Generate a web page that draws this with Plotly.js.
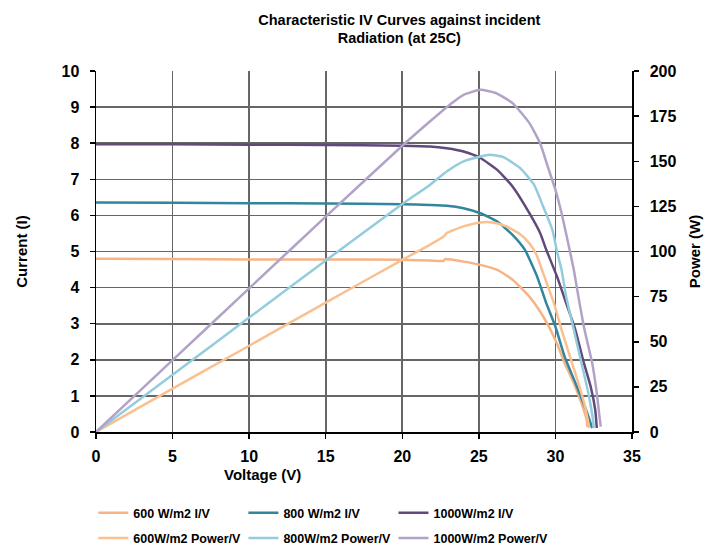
<!DOCTYPE html>
<html>
<head>
<meta charset="utf-8">
<script src="https://cdn.plot.ly/plotly-3.0.1.min.js"></script>
<style>html,body{margin:0;padding:0;background:#fff;}#chart{width:708px;height:547px;}</style>
</head>
<body>
<div id="chart"></div>
<script>
// ---- data ----
var seriesNames = ['600 W/m2 I/V', '800 W/m2 I/V', '1000W/m2 I/V',
                   '600W/m2 Power/V', '800W/m2 Power/V', '1000W/m2 Power/V'];

var v600 = [0, 5, 10, 15, 20, 21.8, 22.7, 22.8, 24, 25.1, 26.2, 27.2, 28.3, 29.2, 30, 30.6, 31.2, 31.7, 32.04, 32.08];
var i600 = [4.80, 4.79, 4.78, 4.78, 4.77, 4.75, 4.74, 4.79, 4.72, 4.63, 4.49, 4.22, 3.75, 3.2, 2.55, 1.91, 1.35, 0.8, 0.34, 0.14];

var v800 = [0, 5, 10, 15, 20, 21.8, 22.9, 24, 25.1, 26.2, 27.2, 28, 28.8, 29.4, 30, 30.6, 31.4, 32, 32.4];
var i800 = [6.36, 6.35, 6.34, 6.33, 6.31, 6.29, 6.27, 6.2, 6.06, 5.83, 5.46, 5.05, 4.31, 3.57, 2.92, 2.09, 1.26, 0.61, 0.11];

var v1000 = [0, 5, 10, 15, 20, 21.8, 22.9, 24, 25.1, 26.2, 27.2, 28.3, 29, 29.4, 30.1, 30.7, 31.3, 31.8, 32.3, 32.6, 32.7];
var i1000 = [7.97, 7.97, 7.96, 7.95, 7.93, 7.91, 7.86, 7.77, 7.59, 7.26, 6.8, 6.06, 5.51, 5.05, 4.31, 3.57, 2.83, 2.0, 1.26, 0.61, 0.11];

var vp600 = [0, 5, 10, 15, 20, 21.8, 22.7, 22.9, 24, 25.1, 25.9, 26.8, 27.7, 28.3, 28.75, 29.2, 29.9, 30.4, 30.95, 31.5, 31.93, 32.21];
var p600 = [0, 24, 47.8, 71.7, 95.4, 103.7, 108.3, 110.2, 113.9, 116.1, 116.1, 113.9, 109.5, 104.5, 98.5, 88, 71.4, 56.6, 41.8, 27.1, 14.1, 2.2];

var vp800 = [0, 5, 10, 15, 20, 21.8, 22.9, 24, 25.1, 25.7, 26.6, 27.7, 28.6, 29.2, 29.8, 30.1, 30.4, 30.7, 31.2, 31.7, 32.15, 32.45, 32.5];
var p800 = [0, 31.7, 63.4, 95, 126.3, 136.9, 144.3, 149.9, 152.6, 153.6, 152.3, 146.2, 137, 124.9, 112, 100, 89.9, 75.1, 56.6, 38.2, 21.5, 6.8, 2.2];

var vp1000 = [0, 5, 10, 15, 20, 21.8, 23.1, 24, 25.1, 26.1, 27.2, 28.3, 29, 29.5, 30, 30.4, 30.95, 31.2, 31.5, 31.9, 32.4, 32.7, 32.9, 32.96];
var p1000 = [0, 39.8, 79.6, 119.3, 158.6, 172.0, 181.3, 186.8, 189.6, 187.8, 182.2, 171.1, 160, 147, 134.2, 121.3, 100, 89.9, 75, 56.6, 38.2, 21.5, 6.8, 3];

var currentTicks = [0,1,2,3,4,5,6,7,8,9,10];
var powerTicks = [0,25,50,75,100,125,150,175,200];
var voltageTicks = [0,5,10,15,20,25,30,35];

var colors = ['#F6B486', '#31859C', '#604A7B', '#FAC090', '#93CDDD', '#B3A2C7'];
var legendIds = ['legend', 'legend2', 'legend3', 'legend', 'legend2', 'legend3'];

var FONT = 'Liberation Sans, Arial, sans-serif';

function tr(x, y, k, yaxis) {
  return {
    x: x, y: y, name: seriesNames[k], type: 'scatter', mode: 'lines',
    yaxis: yaxis, legend: legendIds[k], legendgroup: 'grp' + k,
    line: {color: colors[k], width: 2.5, shape: 'spline', smoothing: 0.5}
  };
}

var data = [
  tr(v600, i600, 0, 'y'),
  tr(v800, i800, 1, 'y'),
  tr(v1000, i1000, 2, 'y'),
  tr(vp600, p600, 3, 'y2'),
  tr(vp800, p800, 4, 'y2'),
  tr(vp1000, p1000, 5, 'y2')
];

var axisCommon = {
  showline: true, linecolor: '#000', linewidth: 1.5,
  ticks: 'outside', ticklen: 5, tickcolor: '#000', tickwidth: 1.5,
  tickfont: {family: FONT, size: 16, color: '#000', weight: 'bold'},
  zeroline: false, automargin: false
};

function legendAt(xPaper) {
  return {
    orientation: 'v', x: xPaper, xanchor: 'left', xref: 'paper',
    y: 1 - 498 / 547, yanchor: 'top', yref: 'container',
    itemwidth: 30, tracegroupgap: 6,
    font: {family: FONT, size: 12.5, color: '#000', weight: 'bold'},
    bgcolor: 'rgba(0,0,0,0)', borderwidth: 0
  };
}

var layout = {
  width: 708, height: 547,
  paper_bgcolor: '#fff', plot_bgcolor: '#fff',
  margin: {l: 96, r: 76, t: 71, b: 115},
  title: {
    text: 'Characteristic IV Curves against incident<br>Radiation (at 25C)',
    font: {family: FONT, size: 14.5, color: '#000', weight: 'bold'},
    x: 0.564, xref: 'container', xanchor: 'center',
    y: 0.955, yref: 'container', yanchor: 'middle'
  },
  xaxis: Object.assign({}, axisCommon, {
    range: [0, 35], tickmode: 'array', tickvals: voltageTicks,
    showgrid: true, gridcolor: '#666', gridwidth: 1.6,
    ticklabelstandoff: 4
  }),
  yaxis: Object.assign({}, axisCommon, {
    range: [0, 10], tickmode: 'array', tickvals: currentTicks,
    showgrid: true, gridcolor: '#666', gridwidth: 1.6,
    ticklabelstandoff: 7,
    title: {text: 'Current (I)', font: {family: FONT, size: 15, color: '#000', weight: 'bold'}, standoff: 30}
  }),
  yaxis2: Object.assign({}, axisCommon, {
    range: [0, 200], tickmode: 'array', tickvals: powerTicks,
    overlaying: 'y', side: 'right', showgrid: false,
    ticklabelstandoff: 8,
    title: {text: 'Power (W)', font: {family: FONT, size: 15, color: '#000', weight: 'bold'}, standoff: 14}
  }),
  annotations: [{
    text: 'Voltage (V)', xref: 'paper', yref: 'paper',
    x: 0.31, y: -0.119, xanchor: 'center', yanchor: 'middle', showarrow: false,
    font: {family: FONT, size: 15, color: '#000', weight: 'bold'}
  }],
  showlegend: true,
  legend: legendAt(-0.005),
  legend2: legendAt(0.275),
  legend3: legendAt(0.555)
};

Plotly.newPlot('chart', data, layout, {displayModeBar: false, staticPlot: true});
</script>
</body>
</html>
